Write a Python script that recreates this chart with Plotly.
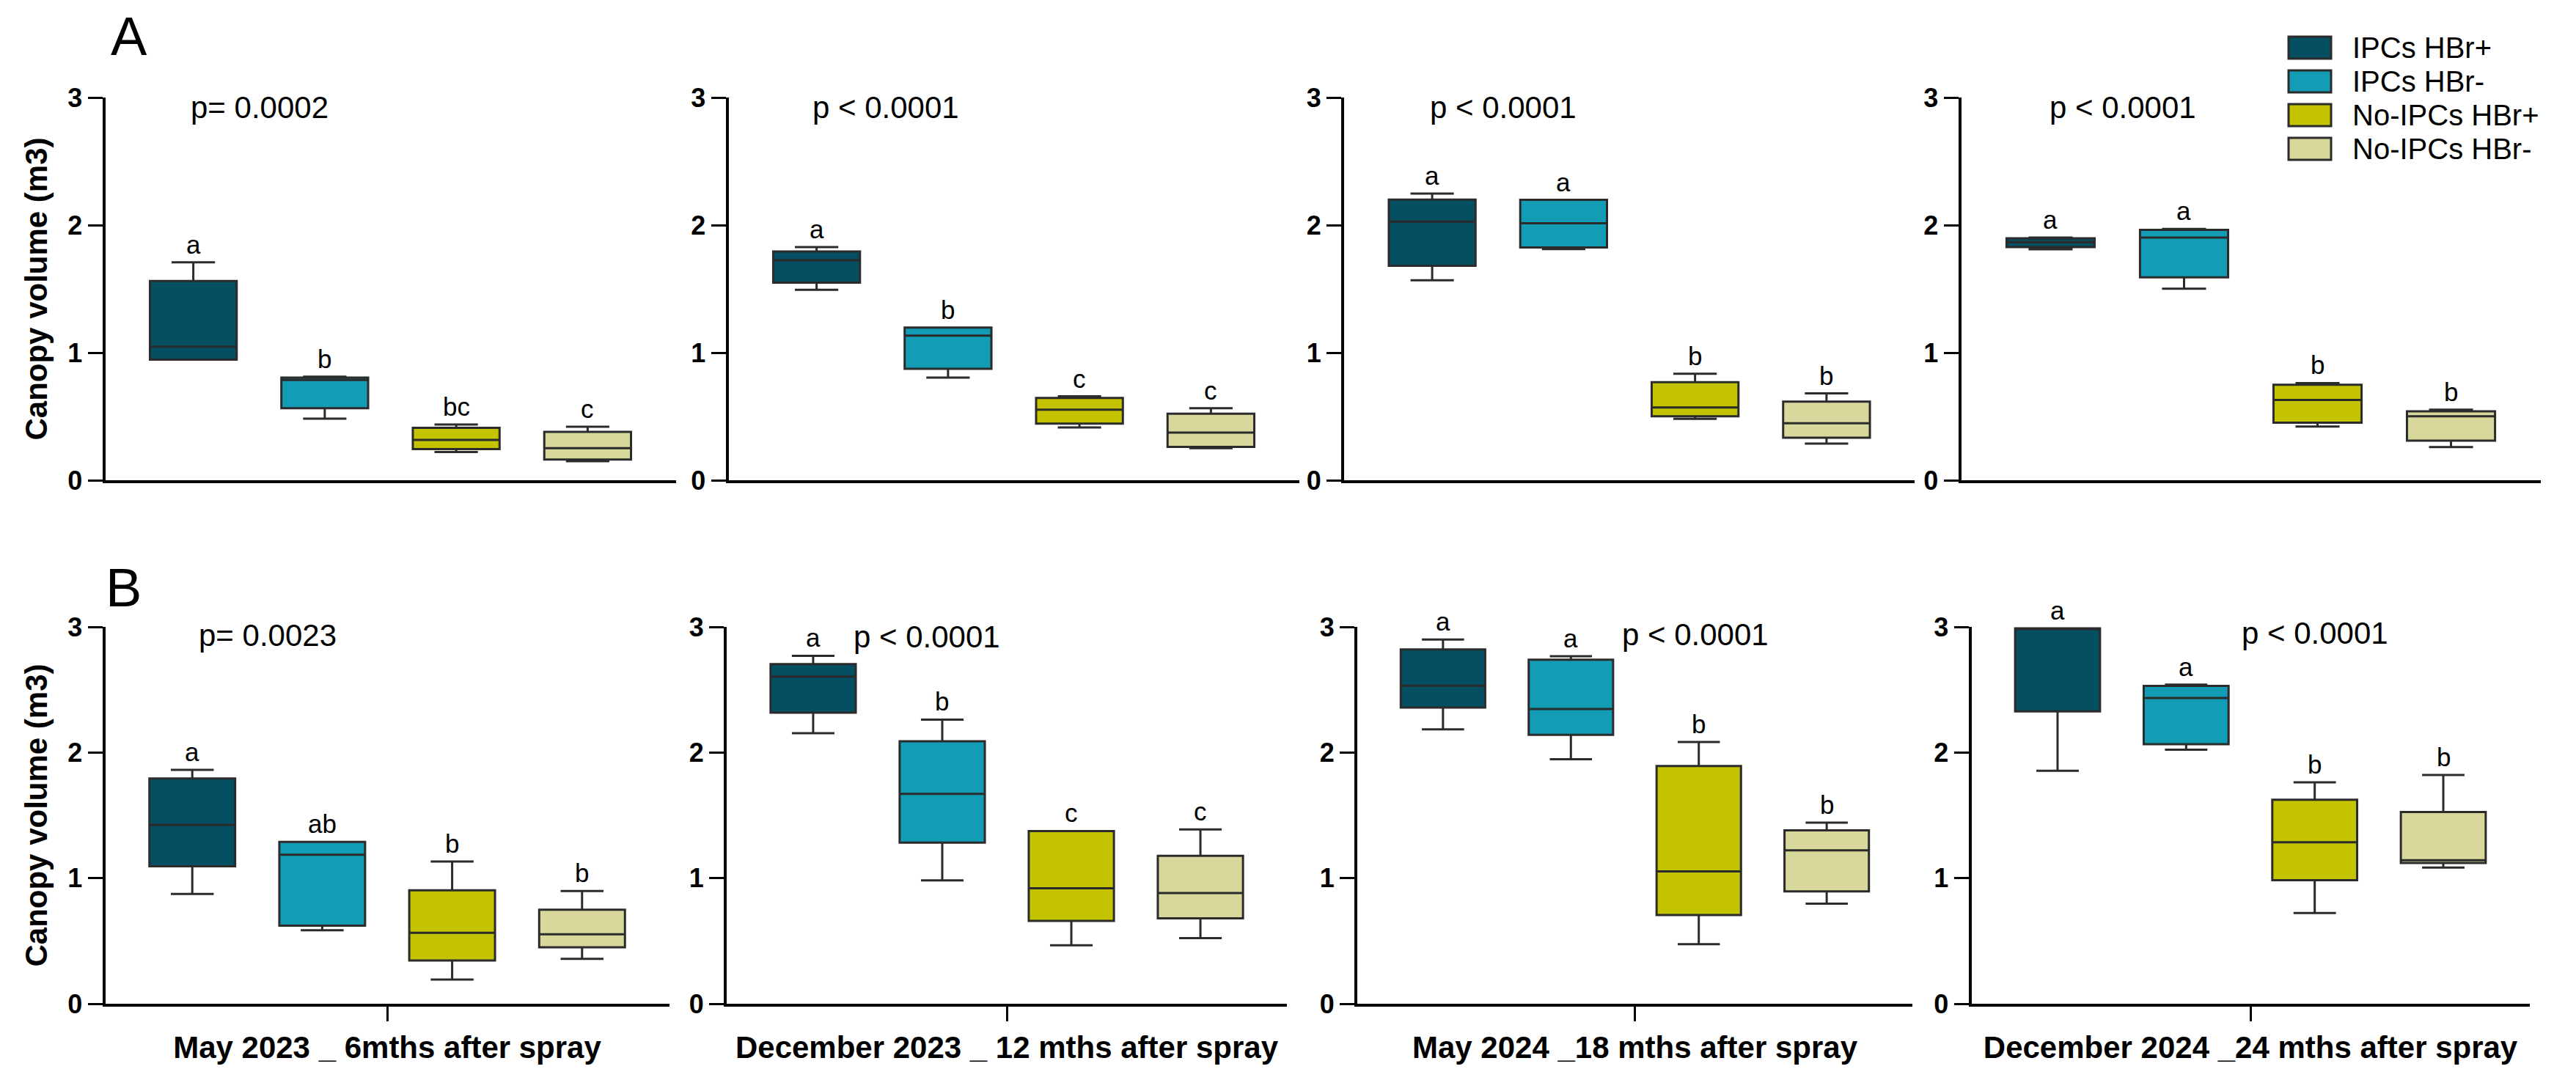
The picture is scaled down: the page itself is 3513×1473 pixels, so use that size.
import plotly.graph_objects as go

# ---------------- data ----------------
groups = ["IPCs HBr+", "IPCs HBr-", "No-IPCs HBr+", "No-IPCs HBr-"]
colors = ["#054F62", "#129CB6", "#C4C300", "#D9D89C"]

# each group: [lower whisker, Q1, median, Q3, upper whisker]  (m3)
A1 = [[0.945, 0.945, 1.048, 1.562, 1.708], [0.483, 0.565, 0.786, 0.804, 0.812],
      [0.221, 0.244, 0.316, 0.411, 0.437], [0.149, 0.162, 0.252, 0.380, 0.419]]
A2 = [[1.493, 1.549, 1.724, 1.793, 1.827], [0.804, 0.874, 1.133, 1.197, 1.197],
      [0.414, 0.444, 0.553, 0.645, 0.658], [0.252, 0.262, 0.373, 0.522, 0.565]]
A3 = [[1.568, 1.681, 2.028, 2.200, 2.247], [1.812, 1.825, 2.015, 2.198, 2.198],
      [0.481, 0.501, 0.571, 0.769, 0.835], [0.288, 0.334, 0.447, 0.617, 0.681]]
A4 = [[1.810, 1.828, 1.866, 1.896, 1.902], [1.501, 1.591, 1.902, 1.963, 1.970],
      [0.421, 0.451, 0.630, 0.749, 0.762], [0.260, 0.311, 0.502, 0.540, 0.553]]
B1 = [[0.874, 1.095, 1.424, 1.794, 1.862], [0.585, 0.622, 1.186, 1.289, 1.289],
      [0.192, 0.344, 0.564, 0.903, 1.132], [0.358, 0.450, 0.553, 0.748, 0.897]]
B2 = [[2.154, 2.317, 2.604, 2.704, 2.770], [0.982, 1.283, 1.671, 2.090, 2.262],
      [0.465, 0.660, 0.919, 1.375, 1.375], [0.523, 0.680, 0.881, 1.177, 1.387]]
B3 = [[2.184, 2.358, 2.531, 2.821, 2.899], [1.947, 2.141, 2.346, 2.739, 2.766],
      [0.474, 0.706, 1.053, 1.892, 2.083], [0.796, 0.894, 1.221, 1.380, 1.441]]
B4 = [[1.855, 2.327, 2.982, 2.988, 2.988], [2.023, 2.066, 2.434, 2.530, 2.540],
      [0.723, 0.983, 1.286, 1.624, 1.763], [1.084, 1.121, 1.142, 1.526, 1.821]]

letters_A1 = ["a", "b", "bc", "c"]
letters_A2 = ["a", "b", "c", "c"]
letters_A3 = ["a", "a", "b", "b"]
letters_A4 = ["a", "a", "b", "b"]
letters_B1 = ["a", "ab", "b", "b"]
letters_B2 = ["a", "b", "c", "c"]
letters_B3 = ["a", "a", "b", "b"]
letters_B4 = ["a", "a", "b", "b"]

p_texts = ["p= 0.0002", "p < 0.0001", "p < 0.0001", "p < 0.0001",
           "p= 0.0023", "p < 0.0001", "p < 0.0001", "p < 0.0001"]

x_labels = ["May 2023 _ 6mths after spray", "December 2023 _ 12 mths after spray",
            "May 2024 _18 mths after spray", "December 2024 _24 mths after spray"]
y_title = "Canopy volume (m3)"
y_ticks = [0, 1, 2, 3]
row_labels = ["A", "B"]

panels = [A1, A2, A3, A4, B1, B2, B3, B4]
panel_letters = [letters_A1, letters_A2, letters_A3, letters_A4,
                 letters_B1, letters_B2, letters_B3, letters_B4]

# ---------------- layout geometry (pixels) ----------------
W, H = 3513, 1473
FONT = "Liberation Sans, Arial, sans-serif"
panel_left = [143.5, 993.5, 1833, 2674.5, 143.5, 991, 1851, 2688.5]
panel_width = [778, 778, 778, 790, 769, 764, 757, 761]
row_top = [133, 855]
row_bot = [655, 1369]
p_xpos = [-0.03, -0.04, -0.03, -0.02, 0.04, 0.30, 1.39, 1.42]
p_ypos = [2.92, 2.92, 2.92, 2.92, 2.93, 2.92, 2.94, 2.95]

fig = go.Figure()
layout = dict(width=W, height=H, margin=dict(l=0, r=0, t=0, b=0),
              paper_bgcolor="white", plot_bgcolor="white",
              showlegend=False, font=dict(family=FONT, color="black"))
annotations = []
shapes = []

for k, stats in enumerate(panels):
    row = 0 if k < 4 else 1
    xa = "x" if k == 0 else f"x{k+1}"
    ya = "y" if k == 0 else f"y{k+1}"
    for g in range(4):
        lo, q1, med, q3, hi = stats[g]
        fig.add_trace(go.Box(
            x=[g], q1=[q1], median=[med], q3=[q3], lowerfence=[lo], upperfence=[hi],
            width=0.66, whiskerwidth=0.5, fillcolor=colors[g],
            line=dict(color="#2b2b2b", width=3), boxpoints=False,
            name=groups[g], xaxis=xa, yaxis=ya, showlegend=False, hoverinfo="skip"))
        annotations.append(dict(
            x=g, y=hi, xref=xa, yref=ya, text=panel_letters[k][g], showarrow=False,
            xanchor="center", yanchor="bottom", yshift=3,
            font=dict(family=FONT, size=35, color="black")))
    annotations.append(dict(
        x=p_xpos[k], y=p_ypos[k], xref=xa, yref=ya, text=p_texts[k], showarrow=False,
        xanchor="left", yanchor="middle", font=dict(family=FONT, size=42, color="black")))

    x0 = panel_left[k] / W
    x1 = (panel_left[k] + panel_width[k]) / W
    y0 = 1 - row_bot[row] / H
    y1 = 1 - row_top[row] / H
    xkey = "xaxis" if k == 0 else f"xaxis{k+1}"
    ykey = "yaxis" if k == 0 else f"yaxis{k+1}"
    xaxis = dict(domain=[x0, x1], anchor=ya, range=[-0.67, 3.67],
                 showgrid=False, zeroline=False, showline=True,
                 linecolor="black", linewidth=4, automargin=False, fixedrange=True)
    if row == 1:
        xaxis.update(tickvals=[1.5], ticktext=[x_labels[k - 4]], ticks="outside",
                     ticklen=20, tickwidth=3, tickcolor="black",
                     tickfont=dict(family=FONT, size=42, color="black", weight="bold"))
    else:
        xaxis.update(showticklabels=False, ticks="")
    yaxis = dict(domain=[y0, y1], anchor=xa, range=[0, 3], tickvals=y_ticks,
                 ticks="outside", ticklen=20, tickwidth=3, tickcolor="black",
                 showgrid=False, zeroline=False, showline=True, linecolor="black",
                 linewidth=4, automargin=False, fixedrange=True,
                 tickfont=dict(family=FONT, size=36, color="black", weight="bold"))
    if k in (0, 4):
        yaxis["title"] = dict(text=y_title, standoff=16,
                              font=dict(family=FONT, size=42, color="black", weight="bold"))
    layout[xkey] = xaxis
    layout[ykey] = yaxis

# row labels A / B
for lab, (px, py) in zip(row_labels, [(176, 49), (168, 801)]):
    annotations.append(dict(x=px / W, y=1 - py / H, xref="paper", yref="paper", text=lab,
                            showarrow=False, xanchor="center", yanchor="middle",
                            font=dict(family=FONT, size=74, color="black")))

# legend (top right)
LEG_TOP, LEG_PITCH, SW_H = 50, 46, 30
for g in range(4):
    top = LEG_TOP + LEG_PITCH * g
    shapes.append(dict(type="rect", xref="paper", yref="paper",
                       x0=3121 / W, x1=3179 / W, y0=1 - (top + SW_H) / H, y1=1 - top / H,
                       fillcolor=colors[g], line=dict(color="#2b2b2b", width=3)))
    annotations.append(dict(x=3206 / W, y=1 - (top + SW_H / 2) / H, xref="paper", yref="paper",
                            text=groups[g], showarrow=False, xanchor="left", yanchor="middle",
                            font=dict(family=FONT, size=40, color="black")))

layout["annotations"] = annotations
layout["shapes"] = shapes
fig.update_layout(**layout)
fig.write_html("out.html")
